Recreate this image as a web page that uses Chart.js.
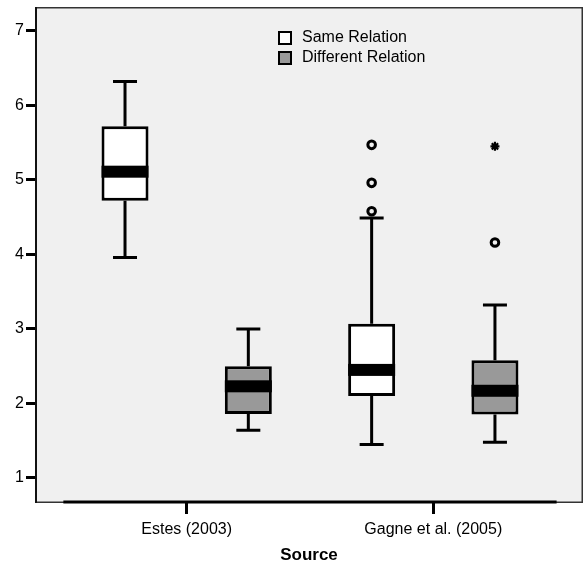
<!DOCTYPE html>
<html lang="en">
<head>
  <meta charset="UTF-8">
  <title>Source boxplot</title>
  <script src="https://cdn.jsdelivr.net/npm/chart.js"></script>
  <style>
    html, body { margin: 0; padding: 0; background: #fff; }
    #wrap { width: 584px; height: 566px; }
  </style>
</head>
<body>
  <div id="wrap"><canvas id="boxChart"></canvas></div>

  <script>
    // categories on the x axis (placed at x = 1, 2)
    const sources = ['Estes (2003)', 'Gagne et al. (2005)'];
    const seriesNames = ['Same Relation', 'Different Relation'];

    // five-number summaries per series, one entry per source
    const sameMin    = [3.96, 1.45];
    const sameQ1     = [4.72, 2.10];
    const sameMedian = [5.11, 2.45];
    const sameQ3     = [5.72, 3.07];
    const sameMax    = [6.32, 4.49];

    const diffMin    = [1.64, 1.48];
    const diffQ1     = [1.86, 1.85];
    const diffMedian = [2.23, 2.17];
    const diffQ3     = [2.50, 2.58];
    const diffMax    = [3.00, 3.32];

    // outliers (Gagne et al. only)
    const sameOutliers = [5.47, 4.96, 4.58];
    const diffOutliers = [4.16];
    const diffExtremes = [5.45];

    const yTicks = [1, 2, 3, 4, 5, 6, 7];

    const offsets = [-0.25, 0.25]; // Same left, Different right of each source
    const fills = ['#ffffff', '#999999'];

    const series = [
      { min: sameMin, q1: sameQ1, med: sameMedian, q3: sameQ3, max: sameMax },
      { min: diffMin, q1: diffQ1, med: diffMedian, q3: diffQ3, max: diffMax }
    ];

    const boxDatasets = series.map((s, k) => ({
      type: 'bar',
      label: seriesNames[k],
      data: sources.map((_, i) => ({ x: i + 1 + offsets[k], y: [s.q1[i], s.q3[i]] })),
      backgroundColor: fills[k],
      borderColor: '#000',
      borderWidth: 3,
      borderSkipped: false,
      grouped: false,
      maxBarThickness: 47
    }));

    const outlierData = [
      ...sameOutliers.map(v => ({ x: 2 + offsets[0], y: v, s: 'circle' })),
      ...diffOutliers.map(v => ({ x: 2 + offsets[1], y: v, s: 'circle' })),
      ...diffExtremes.map(v => ({ x: 2 + offsets[1], y: v, s: 'star' }))
    ];

    const outlierDataset = {
      type: 'scatter',
      label: 'outliers',
      data: outlierData,
      pointStyle: outlierData.map(p => p.s),
      pointRadius: outlierData.map(p => p.s === 'star' ? 4.5 : 3.8),
      borderColor: '#000',
      backgroundColor: 'rgba(0,0,0,0)',
      borderWidth: outlierData.map(p => p.s === 'star' ? 2.2 : 3)
    };

    // background, frame, whiskers, medians, x axis line and legend
    const boxPlugin = {
      id: 'boxPlugin',
      beforeDatasetsDraw(chart) {
        const { ctx, chartArea: a, scales: { x, y } } = chart;
        ctx.save();
        ctx.fillStyle = '#f0f0f0';
        ctx.fillRect(a.left, a.top, a.right - a.left, a.bottom - a.top);
        ctx.strokeStyle = '#333';
        ctx.lineWidth = 1.5;
        ctx.strokeRect(a.left + 0.75, a.top + 0.75, a.right - a.left - 1.5, a.bottom - a.top - 1.5);
        ctx.lineWidth = 2;
        ctx.strokeStyle = '#111';
        ctx.beginPath();
        ctx.moveTo(a.left + 1, a.top);
        ctx.lineTo(a.left + 1, a.bottom);
        ctx.stroke();

        // whiskers
        ctx.strokeStyle = '#000';
        ctx.lineWidth = 3;
        series.forEach((s, k) => {
          sources.forEach((_, i) => {
            const cx = x.getPixelForValue(i + 1 + offsets[k]);
            const pMin = y.getPixelForValue(s.min[i]);
            const pMax = y.getPixelForValue(s.max[i]);
            ctx.beginPath();
            ctx.moveTo(cx, y.getPixelForValue(s.q3[i]));
            ctx.lineTo(cx, pMax);
            ctx.moveTo(cx, y.getPixelForValue(s.q1[i]));
            ctx.lineTo(cx, pMin);
            ctx.moveTo(cx - 12, pMax);
            ctx.lineTo(cx + 12, pMax);
            ctx.moveTo(cx - 12, pMin);
            ctx.lineTo(cx + 12, pMin);
            ctx.stroke();
          });
        });
        ctx.restore();
      },
      afterDatasetsDraw(chart) {
        const { ctx, chartArea: a, scales: { x, y } } = chart;
        ctx.save();
        // medians
        ctx.fillStyle = '#000';
        series.forEach((s, k) => {
          sources.forEach((_, i) => {
            const cx = x.getPixelForValue(i + 1 + offsets[k]);
            const py = y.getPixelForValue(s.med[i]);
            ctx.fillRect(cx - 23.5, py - 6, 47, 12);
          });
        });

        // thick x axis line across the category band
        ctx.strokeStyle = '#000';
        ctx.lineWidth = 3;
        ctx.beginPath();
        ctx.moveTo(x.getPixelForValue(0.5), a.bottom - 1);
        ctx.lineTo(x.getPixelForValue(2.5), a.bottom - 1);
        ctx.stroke();

        // legend
        ctx.font = '16px "Liberation Sans", Arial, sans-serif';
        ctx.textBaseline = 'middle';
        ctx.lineWidth = 2;
        seriesNames.forEach((name, k) => {
          const top = 32 + k * 20;
          ctx.fillStyle = fills[k];
          ctx.fillRect(279, top, 12, 12);
          ctx.strokeStyle = '#000';
          ctx.strokeRect(279, top, 12, 12);
          ctx.fillStyle = '#000';
          ctx.fillText(name, 302, top + 6);
        });
        ctx.restore();
      }
    };

    Chart.defaults.font.family = '"Liberation Sans", Arial, sans-serif';
    Chart.defaults.color = '#000';

    new Chart(document.getElementById('boxChart'), {
      data: { datasets: [...boxDatasets, outlierDataset] },
      options: {
        responsive: true,
        maintainAspectRatio: false,
        animation: false,
        layout: { autoPadding: false, padding: { top: 7, right: 1, left: 0, bottom: 0 } },
        plugins: {
          legend: { display: false },
          tooltip: { enabled: false }
        },
        scales: {
          x: {
            type: 'linear',
            min: 0.385,
            max: 2.607,
            offset: false,
            afterBuildTicks(scale) {
              scale.ticks = sources.map((_, i) => ({ value: i + 1 }));
            },
            afterFit(scale) {
              scale.height = 63;
              scale.paddingLeft = 0;
              scale.paddingRight = 0;
            },
            ticks: {
              callback: v => sources[Math.round(v) - 1],
              font: { size: 16 },
              padding: 6,
              maxRotation: 0,
              autoSkip: false
            },
            grid: {
              offset: false,
              drawOnChartArea: false,
              drawTicks: true,
              tickLength: 11,
              tickWidth: 3,
              tickColor: '#000'
            },
            border: { display: false },
            title: {
              display: true,
              text: 'Source',
              font: { size: 17, weight: 'bold' },
              padding: { top: 0, bottom: 0 }
            }
          },
          y: {
            type: 'linear',
            min: 0.664,
            max: 7.32,
            afterBuildTicks(scale) {
              scale.ticks = yTicks.map(v => ({ value: v }));
            },
            afterFit(scale) {
              scale.width = 35;
              scale.paddingTop = 0;
              scale.paddingBottom = 0;
            },
            ticks: {
              font: { size: 16 },
              padding: 2
            },
            grid: {
              drawOnChartArea: false,
              drawTicks: true,
              tickLength: 9,
              tickWidth: 3,
              tickColor: '#000'
            },
            border: { display: false }
          }
        }
      },
      plugins: [boxPlugin]
    });
  </script>
</body>
</html>
